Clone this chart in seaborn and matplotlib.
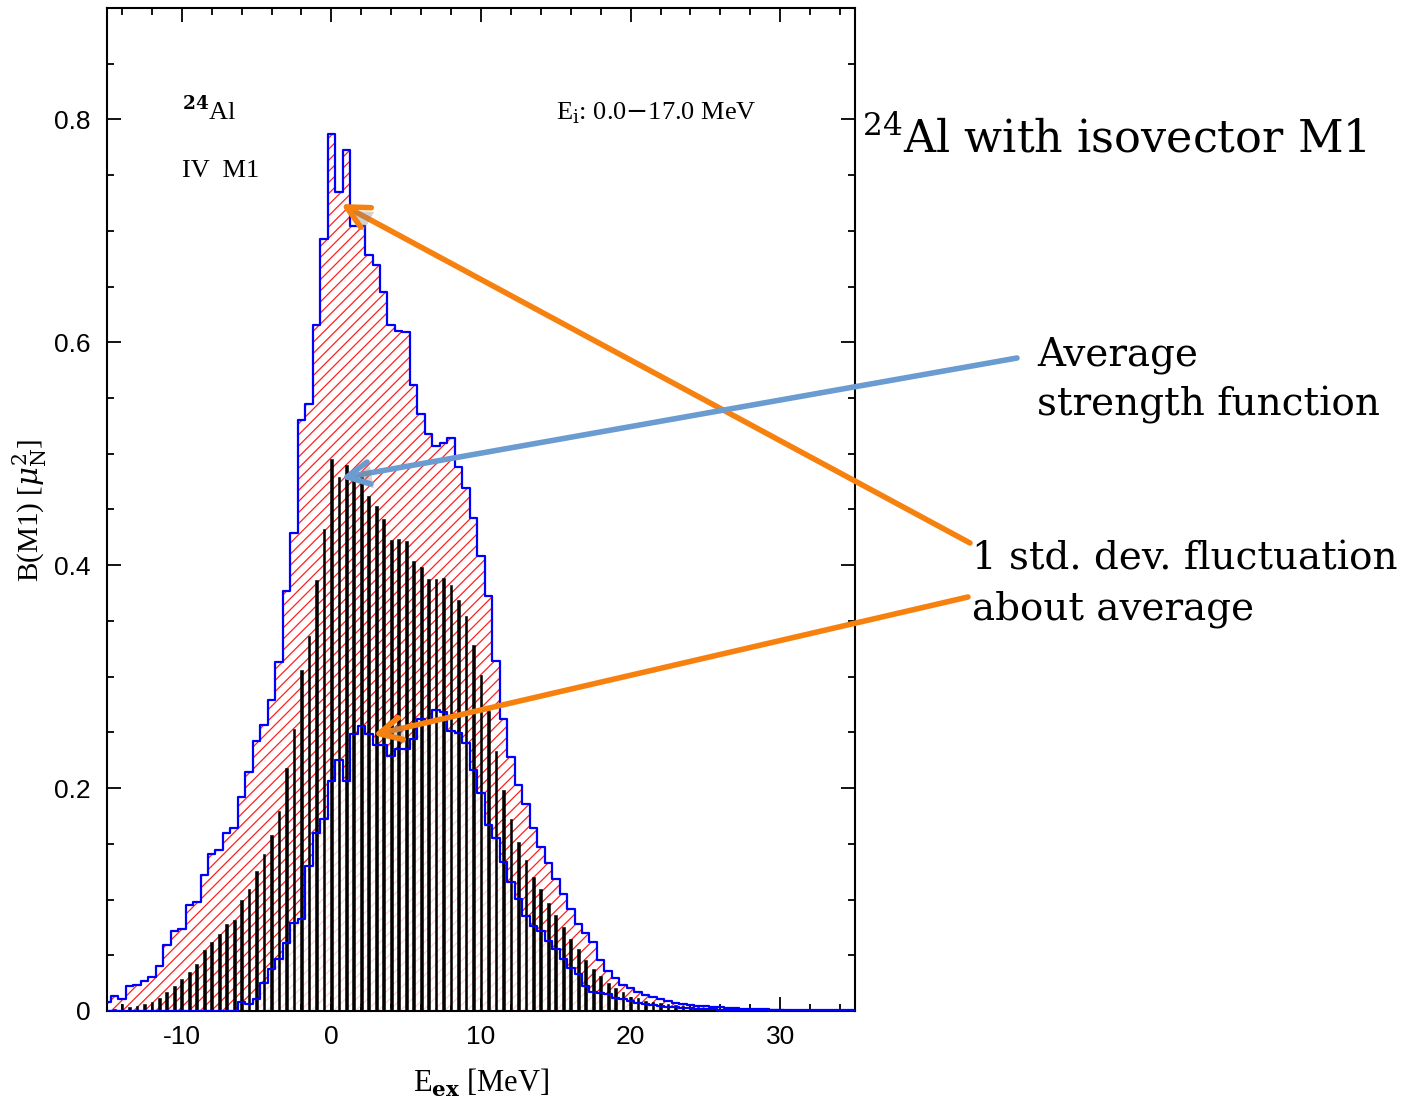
import numpy as np
import pandas as pd
import matplotlib
matplotlib.use("Agg")
import matplotlib.pyplot as plt
import matplotlib.patheffects as pe
from matplotlib.patches import FancyArrowPatch
from matplotlib.ticker import MultipleLocator
import seaborn as sns

# Excitation-energy bin centres [MeV], 0.5 MeV bins
energy = np.arange(-15.0, 35.01, 0.5)

# Average B(M1) strength per bin
strength_avg = [
    0.0008, 0.0015, 0.0060, 0.0035, 0.0045, 0.0063, 0.0081, 0.0117, 0.0168, 0.0227,
    0.0287, 0.0347, 0.0422, 0.0545, 0.0617, 0.0689, 0.0780, 0.0814, 0.0997, 0.1091,
    0.1254, 0.1407, 0.1578, 0.1797, 0.2179, 0.2533, 0.3060, 0.3368, 0.3871, 0.4322,
    0.4956, 0.4792, 0.4900, 0.4762, 0.4792, 0.4618, 0.4528, 0.4415, 0.4223, 0.4235,
    0.4214, 0.4034, 0.3980, 0.3879, 0.3879, 0.3885, 0.3825, 0.3684, 0.3547, 0.3286,
    0.3017, 0.2696, 0.2337, 0.1984, 0.1722, 0.1516, 0.1353, 0.1199, 0.1095, 0.0968,
    0.0863, 0.0758, 0.0646, 0.0560, 0.0456, 0.0377, 0.0310, 0.0250, 0.0205, 0.0168,
    0.0129, 0.0114, 0.0093, 0.0078, 0.0069, 0.0063, 0.0054, 0.0048, 0.0039, 0.0033,
    0.0029, 0.0025, 0.0022, 0.0019, 0.0016, 0.0014, 0.0012, 0.0010, 0.0009, 0.0008,
    0.0007, 0.0006, 0.0005, 0.0005, 0.0004, 0.0004, 0.0003, 0.0003, 0.0002, 0.0002,
    0.0002,
]

# Average + 1 standard deviation
strength_hi = [
    0.0084, 0.0137, 0.0108, 0.0227, 0.0236, 0.0270, 0.0305, 0.0407, 0.0590, 0.0718,
    0.0739, 0.0954, 0.0979, 0.1224, 0.1412, 0.1448, 0.1600, 0.1640, 0.1924, 0.2143,
    0.2427, 0.2568, 0.2790, 0.3136, 0.3766, 0.4285, 0.5300, 0.5447, 0.6153, 0.6929,
    0.7865, 0.7350, 0.7730, 0.7042, 0.7042, 0.6785, 0.6692, 0.6450, 0.6160, 0.6102,
    0.6090, 0.5620, 0.5357, 0.5180, 0.5072, 0.5100, 0.5138, 0.4880, 0.4693, 0.4422,
    0.4085, 0.3727, 0.3140, 0.2623, 0.2280, 0.2028, 0.1859, 0.1640, 0.1475, 0.1326,
    0.1185, 0.1050, 0.0913, 0.0781, 0.0698, 0.0622, 0.0458, 0.0360, 0.0296, 0.0233,
    0.0204, 0.0173, 0.0144, 0.0129, 0.0105, 0.0090, 0.0075, 0.0063, 0.0055, 0.0048,
    0.0042, 0.0037, 0.0032, 0.0028, 0.0025, 0.0022, 0.0019, 0.0017, 0.0015, 0.0013,
    0.0012, 0.0011, 0.0010, 0.0009, 0.0008, 0.0007, 0.0007, 0.0006, 0.0006, 0.0005,
    0.0005,
]

# Average - 1 standard deviation (clipped at zero)
strength_lo = [
    0.0, 0.0, 0.0, 0.0, 0.0, 0.0, 0.0, 0.0, 0.0, 0.0,
    0.0, 0.0, 0.0, 0.0, 0.0, 0.0, 0.0, 0.0, 0.0084, 0.0063,
    0.0105, 0.0250, 0.0378, 0.0470, 0.0612, 0.0792, 0.0830, 0.1302, 0.1593, 0.1725,
    0.2060, 0.2250, 0.2060, 0.2490, 0.2553, 0.2485, 0.2385, 0.2385, 0.2292, 0.2350,
    0.2350, 0.2440, 0.2620, 0.2600, 0.2700, 0.2685, 0.2514, 0.2499, 0.2409, 0.2164,
    0.1960, 0.1670, 0.1550, 0.1335, 0.1161, 0.1006, 0.0850, 0.0766, 0.0715, 0.0625,
    0.0554, 0.0470, 0.0383, 0.0335, 0.0220, 0.0170, 0.0164, 0.0150, 0.0120, 0.0110,
    0.0092, 0.0076, 0.0064, 0.0055, 0.0046, 0.0040, 0.0034, 0.0029, 0.0024, 0.0020,
    0.0017, 0.0015, 0.0013, 0.0011, 0.0010, 0.0009, 0.0008, 0.0007, 0.0006, 0.0005,
    0.0005, 0.0004, 0.0004, 0.0003, 0.0003, 0.0003, 0.0002, 0.0002, 0.0002, 0.0002,
    0.0001,
]

x_ticks = [-10, 0, 10, 20, 30]
y_ticks = [0, 0.2, 0.4, 0.6, 0.8]
y_tick_labels = ["0", "0.2", "0.4", "0.6", "0.8"]

df = pd.DataFrame({"E": energy, "avg": strength_avg,
                   "hi": strength_hi, "lo": strength_lo})

sns.set_theme(style="ticks")
plt.rcParams["font.family"] = ["Liberation Sans", "DejaVu Sans"]
plt.rcParams["mathtext.fontset"] = "dejavuserif"
plt.rcParams["hatch.linewidth"] = 0.9
plt.rcParams["text.color"] = "black"

W, H = 1405, 1101
fig = plt.figure(figsize=(W / 100, H / 100), dpi=100)
ax = fig.add_axes([107 / W, 1 - 1011 / H, (855 - 107) / W, (1011 - 8) / H])

# fluctuation band: hatched between -1 and +1 standard deviation
ax.fill_between(df["E"], df["lo"], df["hi"], step="mid", facecolor="none",
                edgecolor="#ff2020", hatch="///", linewidth=0, zorder=1)
# faint hatch underneath the lower bound
ax.fill_between(df["E"], 0, df["lo"], step="mid", facecolor="none",
                edgecolor="#ffd2d2", hatch="///", linewidth=0, zorder=1)

# average strength as narrow black bars
sns.barplot(data=df, x="E", y="avg", native_scale=True, width=0.36,
            color="black", saturation=1, edgecolor="black", linewidth=0.4,
            ax=ax, zorder=2)

# step outlines of the band
sns.lineplot(data=df, x="E", y="hi", drawstyle="steps-mid", color="#0000ff",
             linewidth=1.6, ax=ax, zorder=3, errorbar=None)
sns.lineplot(data=df, x="E", y="lo", drawstyle="steps-mid", color="#0000ff",
             linewidth=1.6, ax=ax, zorder=3, errorbar=None)

ax.set_xlim(-15, 35)
ax.set_ylim(0, 0.9)
ax.set_xticks(x_ticks)
ax.set_xticklabels([str(t) for t in x_ticks])
ax.set_yticks(y_ticks)
ax.set_yticklabels(y_tick_labels)
ax.xaxis.set_minor_locator(MultipleLocator(2))
ax.yaxis.set_minor_locator(MultipleLocator(0.05))
ax.tick_params(which="both", direction="in", top=True, right=True,
               colors="black", width=1.3, labelsize=19)
ax.tick_params(which="major", length=10)
ax.tick_params(which="minor", length=5)
ax.tick_params(axis="y", pad=12)
ax.tick_params(axis="x", pad=10)
for s in ax.spines.values():
    s.set_linewidth(1.5)
    s.set_color("black")

serif = ["Liberation Serif", "DejaVu Serif"]
ax.set_xlabel("")
ax.set_ylabel("")
fig.text(481 / W, 1 - 1083 / H, r"E$_{\mathbf{ex}}$ [MeV]", ha="center",
         va="center", fontsize=22, family=serif, color="black")
fig.text(30 / W, 1 - 510 / H, r"B(M1) [$\mu^2_\mathrm{N}$]", ha="center",
         va="center", rotation=90, fontsize=21, family=serif, color="black")

# labels inside the frame
fig.text(182 / W, 1 - 120 / H, r"$^{\mathbf{24}}$Al", ha="left",
         va="baseline", fontsize=19, family=serif, color="black")
fig.text(182 / W, 1 - 177 / H, "IV  M1", ha="left", va="baseline",
         fontsize=19, family=serif, color="black")
fig.text(556 / W, 1 - 120 / H, r"E$_\mathrm{i}$: 0.0$-$17.0 MeV", ha="left",
         va="baseline", fontsize=19, family=serif, color="black")

# annotation texts on the right
ann = ["DejaVu Serif"]
fig.text(862 / W, 1 - 152 / H, r"$^{24}$Al with isovector M1", ha="left",
         va="baseline", fontsize=32, family=ann, color="black")
fig.text(1037 / W, 1 - 366 / H, "Average", ha="left", va="baseline",
         fontsize=28, family=ann, color="black")
fig.text(1037 / W, 1 - 416 / H, "strength function", ha="left",
         va="baseline", fontsize=28, family=ann, color="black")
fig.text(972 / W, 1 - 570 / H, "1 std. dev. fluctuation", ha="left",
         va="baseline", fontsize=28, family=ann, color="black")
fig.text(972 / W, 1 - 620 / H, "about average", ha="left", va="baseline",
         fontsize=28, family=ann, color="black")


def fig_arrow(p0, p1, color):
    arr = FancyArrowPatch((p0[0] / W, 1 - p0[1] / H), (p1[0] / W, 1 - p1[1] / H),
                          transform=fig.transFigure,
                          arrowstyle="->,head_length=16,head_width=8",
                          mutation_scale=1, color=color, linewidth=4,
                          shrinkA=0, shrinkB=0, zorder=10,
                          path_effects=[pe.SimplePatchShadow(offset=(2, -3),
                                                             shadow_rgbFace="gray",
                                                             alpha=0.35),
                                        pe.Normal()])
    fig.add_artist(arr)


fig_arrow((970, 543), (341, 204), "#f7810f")
fig_arrow((1017, 358), (341, 478), "#6a9bd1")
fig_arrow((968, 597), (373, 735), "#f7810f")

fig.savefig("out.png", dpi=100)
